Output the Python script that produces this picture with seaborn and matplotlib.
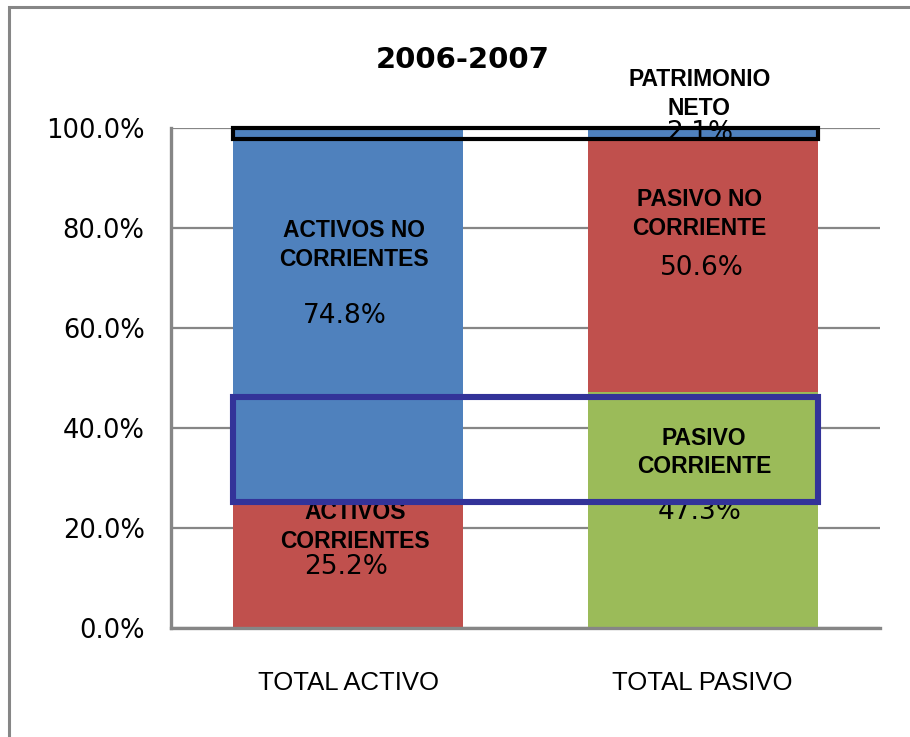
import matplotlib
matplotlib.use("Agg")
import matplotlib.pyplot as plt
import seaborn as sns
from matplotlib.patches import Rectangle
from matplotlib.ticker import PercentFormatter

# data (percent of total)
categories = ["TOTAL ACTIVO", "TOTAL PASIVO"]
activo_vals = [25.2, 74.8]          # corrientes, no corrientes
pasivo_vals = [47.3, 50.6, 2.1]     # corriente, no corriente, patrimonio neto
highlight_box = [25.2, 46.2]        # blue outline range
title = "2006-2007"

BLUE = "#4F81BD"
RED = "#C0504D"
GREEN = "#9BBB59"
GRID = "#868686"
BAR_W = 0.65

sns.set_style("white")
plt.rcParams["font.family"] = ["DejaVu Sans"]
plt.rcParams["text.color"] = "black"
plt.rcParams["xtick.color"] = "black"
plt.rcParams["ytick.color"] = "black"

fig = plt.figure(figsize=(9.1, 7.37), dpi=100)
ax = fig.add_axes([171 / 910, 1 - 628 / 737, (880 - 171) / 910, 500 / 737])

# stacked bars drawn as cumulative layers, tallest first
blue_top = [sum(activo_vals), sum(pasivo_vals)]
red_top = [activo_vals[0], pasivo_vals[0] + pasivo_vals[1]]
green_top = [0, pasivo_vals[0]]
for tops, col in [(blue_top, BLUE), (red_top, RED), (green_top, GREEN)]:
    sns.barplot(x=categories, y=tops, color=col, width=BAR_W, ax=ax,
                saturation=1, linewidth=0, zorder=2)

ax.set_xlim(-0.5, 1.5)
ax.set_ylim(0, 100)
ax.set_yticks([0, 20, 40, 60, 80, 100])
ax.yaxis.set_major_formatter(PercentFormatter(decimals=1))
ax.yaxis.grid(True, color=GRID, lw=1.6, zorder=0)
ax.set_axisbelow(True)
for s in ["top", "right"]:
    ax.spines[s].set_visible(False)
for s in ["left", "bottom"]:
    ax.spines[s].set_color(GRID)
    ax.spines[s].set_linewidth(2.4)
ax.tick_params(axis="y", length=0, pad=19, labelsize=18.5)
ax.tick_params(axis="x", length=0, pad=31)
ax.set_xticks([0, 1])
ax.set_xticklabels(categories, fontsize=18.5,
                   family=["Liberation Sans Narrow", "Liberation Sans"])
ax.set_xlabel("")
ax.set_ylabel("")

# segment labels
bold = dict(fontsize=16.5, fontweight="bold", ha="center", va="center",
            family=["Liberation Sans", "DejaVu Sans"], linespacing=1.3,
            zorder=3, clip_on=False)
num = dict(fontsize=19, ha="center", va="center", zorder=3, clip_on=False)

ax.text(0.017, 76.6, "ACTIVOS NO\nCORRIENTES", **bold)
ax.text(-0.01, 62.4, f"{activo_vals[1]}%", **num)
ax.text(0.02, 20.2, "ACTIVOS\nCORRIENTES", **bold)
ax.text(-0.005, 12.2, f"{activo_vals[0]}%", **num)
ax.text(0.99, 82.8, "PASIVO NO\nCORRIENTE", **bold)
ax.text(0.997, 72.0, f"{pasivo_vals[1]}%", **num)
ax.text(1.003, 35.1, "PASIVO\nCORRIENTE", **bold)
ax.text(0.99, 23.2, f"{pasivo_vals[0]}%", **num)
ax.text(0.99, 99.0, f"{pasivo_vals[2]}%", **num)
ax.text(0.99, 106.8, "PATRIMONIO\nNETO", **bold)

# highlight outlines
x0 = -BAR_W / 2
x1 = 1 + BAR_W / 2
top_lo = sum(pasivo_vals) - pasivo_vals[2]
ax.add_patch(Rectangle((x0, top_lo), x1 - x0, 100 - top_lo, fill=False,
                       ec="black", lw=3, zorder=4, clip_on=False))
ax.add_patch(Rectangle((x0, highlight_box[0]), x1 - x0,
                       highlight_box[1] - highlight_box[0], fill=False,
                       ec="#333399", lw=4.4, zorder=4, clip_on=False))

fig.text(463 / 910, 1 - 60 / 737, title, fontsize=21, fontweight="bold",
         ha="center", va="center")

# outer chart frame
fig.add_artist(Rectangle((9 / 910, -0.05), 1.2, 1 - 7 / 737 + 0.05,
                         transform=fig.transFigure, fill=False, ec=GRID,
                         lw=2.2))

fig.savefig("out.png", dpi=100)
